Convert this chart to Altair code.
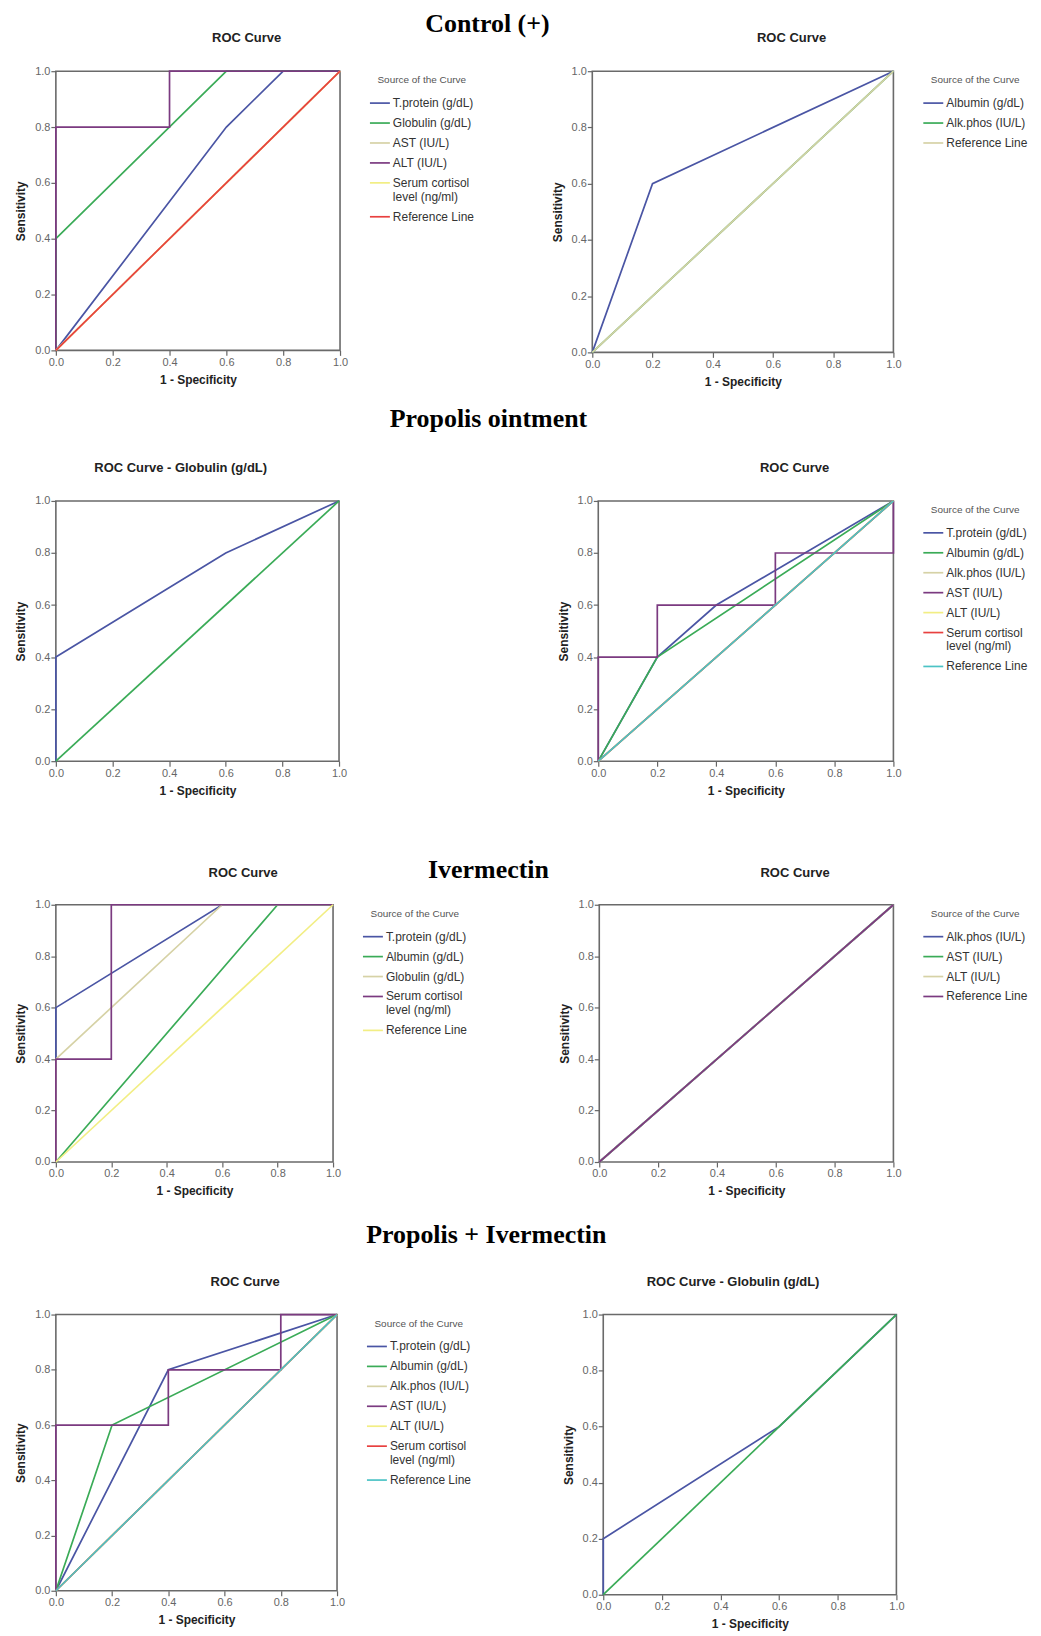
import altair as alt
import pandas as pd

PALETTE = ["#4a55a4", "#3aab57", "#d6d2a6", "#7b3a80", "#f2ee84", "#e8403f", "#4cc3c5"]

# ---------- group titles ----------
GROUPS = ["Control (+)", "Propolis ointment", "Ivermectin", "Propolis + Ivermectin"]

# ---------- Control (+) : left panel ----------
c1_names = ["T.protein (g/dL)", "Globulin (g/dL)", "AST (IU/L)", "ALT (IU/L)",
            "Serum cortisol level (ng/ml)", "Reference Line"]
c1_x = [[0, 0.6, 0.8, 1.0], [0, 0, 0.6, 1.0], [0, 1], [0, 0, 0.4, 0.4, 1.0], [0, 1], [0, 1]]
c1_y = [[0, 0.8, 1.0, 1.0], [0, 0.4, 1.0, 1.0], [0, 1], [0, 0.8, 0.8, 1.0, 1.0], [0, 1], [0, 1]]

# ---------- Control (+) : right panel ----------
c2_names = ["Albumin (g/dL)", "Alk.phos (IU/L)", "Reference Line"]
c2_x = [[0, 0.2, 1.0], [0, 1], [0, 1]]
c2_y = [[0, 0.6, 1.0], [0, 1], [0, 1]]

# ---------- Propolis ointment : left panel ----------
p1_names = ["Globulin (g/dL)", "Reference Line"]
p1_x = [[0, 0, 0.6, 1.0], [0, 1]]
p1_y = [[0, 0.4, 0.8, 1.0], [0, 1]]

# ---------- Propolis ointment : right panel ----------
p2_names = ["T.protein (g/dL)", "Albumin (g/dL)", "Alk.phos (IU/L)", "AST (IU/L)", "ALT (IU/L)",
            "Serum cortisol level (ng/ml)", "Reference Line"]
p2_x = [[0, 0.2, 0.4, 1.0], [0, 0.2, 1.0], [0, 1], [0, 0, 0.2, 0.2, 0.6, 0.6, 1.0, 1.0],
        [0, 1], [0, 1], [0, 1]]
p2_y = [[0, 0.4, 0.6, 1.0], [0, 0.4, 1.0], [0, 1], [0, 0.4, 0.4, 0.6, 0.6, 0.8, 0.8, 1.0],
        [0, 1], [0, 1], [0, 1]]

# ---------- Ivermectin : left panel ----------
i1_names = ["T.protein (g/dL)", "Albumin (g/dL)", "Globulin (g/dL)",
            "Serum cortisol level (ng/ml)", "Reference Line"]
i1_x = [[0, 0, 0.6, 1.0], [0, 0.8, 1.0], [0, 0, 0.6, 1.0], [0, 0, 0.2, 0.2, 1.0], [0, 1]]
i1_y = [[0, 0.6, 1.0, 1.0], [0, 1.0, 1.0], [0, 0.4, 1.0, 1.0], [0, 0.4, 0.4, 1.0, 1.0], [0, 1]]

# ---------- Ivermectin : right panel ----------
i2_names = ["Alk.phos (IU/L)", "AST (IU/L)", "ALT (IU/L)", "Reference Line"]
i2_x = [[0, 1], [0, 1], [0, 1], [0, 1]]
i2_y = [[0, 1], [0, 1], [0, 1], [0, 1]]

# ---------- Propolis + Ivermectin : left panel ----------
b1_names = ["T.protein (g/dL)", "Albumin (g/dL)", "Alk.phos (IU/L)", "AST (IU/L)", "ALT (IU/L)",
            "Serum cortisol level (ng/ml)", "Reference Line"]
b1_x = [[0, 0.4, 1.0], [0, 0.2, 1.0], [0, 1], [0, 0, 0.4, 0.4, 0.8, 0.8, 1.0], [0, 1], [0, 1], [0, 1]]
b1_y = [[0, 0.8, 1.0], [0, 0.6, 1.0], [0, 1], [0, 0.6, 0.6, 0.8, 0.8, 1.0, 1.0], [0, 1], [0, 1], [0, 1]]

# ---------- Propolis + Ivermectin : right panel ----------
b2_names = ["Globulin (g/dL)", "Reference Line"]
b2_x = [[0, 0, 0.6, 1.0], [0, 1]]
b2_y = [[0, 0.2, 0.6, 1.0], [0, 1]]

TICKS = [0, 0.2, 0.4, 0.6, 0.8, 1.0]
SANS = "Liberation Sans"
SERIF = "Liberation Serif"

LABEL_EXPR = ("datum.label == 'Serum cortisol level (ng/ml)' ? "
              "['Serum cortisol', 'level (ng/ml)'] : datum.label")


def panel(names, xs, ys, title, w, h, show_legend, toff=20):
    scale = alt.Scale(domain=names, range=PALETTE[:len(names)])
    leg = alt.Legend(title="Source of the Curve", labelExpr=LABEL_EXPR) if show_legend else None
    layers = []
    for i, n in enumerate(names):
        df = pd.DataFrame({"x": xs[i], "y": ys[i], "series": n, "k": list(range(len(xs[i])))})
        layers.append(alt.Chart(df).mark_line(strokeWidth=1.7).encode(
            x=alt.X("x:Q", scale=alt.Scale(domain=[0, 1], nice=False),
                    axis=alt.Axis(values=TICKS, format=".1f", title="1 - Specificity")),
            y=alt.Y("y:Q", scale=alt.Scale(domain=[0, 1], nice=False),
                    axis=alt.Axis(values=TICKS, format=".1f", title="Sensitivity")),
            order=alt.Order("k:Q"),
            color=alt.Color("series:N", scale=scale, legend=leg)))
    return alt.layer(*layers).properties(
        width=w, height=h,
        title=alt.TitleParams(title, font=SANS, fontSize=13, fontWeight="bold", color="#222",
                              anchor="middle", frame="bounds", offset=toff))


def indep(c):
    return c.resolve_scale(color="independent").resolve_legend(color="independent")


def row(a, b, name, spacing, offset, dx):
    return indep(alt.hconcat(a, b, spacing=spacing)).properties(
        title=alt.TitleParams(name, font=SERIF, fontSize=26, fontWeight="bold", color="#000",
                              anchor="middle", offset=offset, dx=dx))


r1 = row(panel(c1_names, c1_x, c1_y, "ROC Curve", 285, 280, True),
         panel(c2_names, c2_x, c2_y, "ROC Curve", 302, 282, True),
         GROUPS[0], 70, -5, -36)
r2 = row(panel(p1_names, p1_x, p1_y, "ROC Curve - Globulin (g/dL)", 284, 261, False),
         panel(p2_names, p2_x, p2_y, "ROC Curve", 296, 261, True),
         GROUPS[1], 208, 29, -35)
r3 = row(panel(i1_names, i1_x, i1_y, "ROC Curve", 278, 258, True, 19),
         panel(i2_names, i2_x, i2_y, "ROC Curve", 295, 258, True, 19),
         GROUPS[2], 84, -17, -35)
r4 = row(panel(b1_names, b1_x, b1_y, "ROC Curve", 282, 277, True),
         panel(b2_names, b2_x, b2_y, "ROC Curve - Globulin (g/dL)", 294, 281, False),
         GROUPS[3], 84, 27, 27)

top = indep(alt.vconcat(r1, r2, spacing=18))
bottom = indep(alt.vconcat(r3, r4, spacing=24))

chart = indep(alt.vconcat(top, bottom, spacing=60)).properties(
    padding={"left": 5, "top": 0, "right": 0, "bottom": 0}).configure(
    background="white").configure_view(stroke="#6a6a6a", strokeWidth=1.6).configure_axis(
    grid=False, domain=False, ticks=True, tickColor="#666", tickSize=5, tickWidth=1.2,
    labelColor="#666", labelFont=SANS, labelFontSize=11, labelPadding=1, labelFlush=False,
    titleFont=SANS, titleFontSize=12, titleFontWeight="bold", titleColor="#222",
).configure_axisX(titlePadding=7).configure_axisY(titlePadding=7).configure_legend(
    orient="right", offset=21, padding=4, symbolType="stroke", symbolSize=400,
    symbolStrokeWidth=1.7, labelFont=SANS, labelFontSize=12, labelColor="#333", labelOffset=2,
    titleFont=SANS, titleFontSize=10, titleFontWeight="normal", titleColor="#555",
    titleAnchor="middle", titlePadding=7, rowPadding=3, labelLimit=200,
)

chart.save("out.html", embed_options={"renderer": "svg", "actions": False})
